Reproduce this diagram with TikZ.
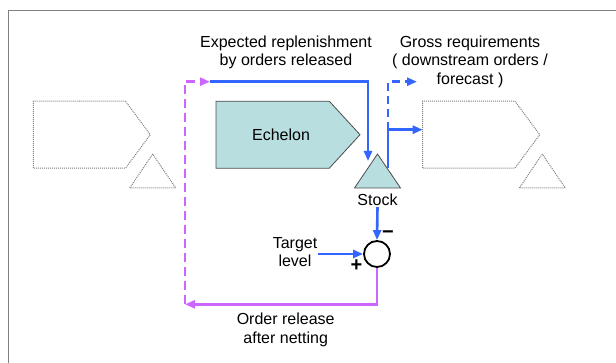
\documentclass[tikz,border=0pt]{standalone}
\usepackage{fontspec}
\setmainfont{Liberation Sans}
\usetikzlibrary{arrows.meta,shapes.symbols,shapes.geometric,positioning}
\definecolor{fluxbleu}{RGB}{51,102,255}
\definecolor{fluxmauve}{RGB}{204,102,255}
\definecolor{echelonfond}{RGB}{184,222,224}
\definecolor{cadregris}{RGB}{128,128,128}
\tikzset{
  fleche/.style={-{Triangle[length=10pt,width=8pt]}},
  bleuflux/.style={fluxbleu, line width=2.6pt, fleche},
  bleutirets/.style={bleuflux, dash pattern=on 8pt off 5pt},
  mauveflux/.style={fluxmauve, line width=2.6pt, fleche},
  mauvetirets/.style={mauveflux, dash pattern=on 9pt off 5pt},
  fantome/.style={draw=gray, dash pattern=on 1pt off 1pt, line width=1pt},
  etage/.style={signal, signal to=east, signal pointer angle=107, minimum width=117pt, minimum height=67pt, inner sep=0pt, outer sep=0pt, anchor=west},
  stocktri/.style={isosceles triangle, isosceles triangle stretches, shape border rotate=90, minimum width=46pt, minimum height=34pt, inner sep=0pt, outer sep=0pt, anchor=apex},
  signe/.style={font=\fontsize{20}{20}\bfseries, inner sep=0pt},
  texte/.style={font=\fontsize{16}{18.4}\selectfont, align=center, inner sep=1pt}
}

\begin{document}
\begin{tikzpicture}[x=1pt,y=-1pt]
  \useasboundingbox (0,0) rectangle (616,363);

  % cadre
  \draw[cadregris, line width=1pt] (8,363) |- (616,10.5);

  % étages amont et aval
  \node[etage, fantome] (amont) at (33.3,134.7) {};
  \node[stocktri, fantome] (amontstock) at (152.7,154) {};
  \node[etage, fantome] (aval) at (422.7,134.7) {};
  \node[stocktri, fantome] (avalstock) at (542.3,154) {};

  % échelon et son stock
  \node[etage, fill=echelonfond, draw=gray!60!black, line width=0.8pt,
        signal pointer angle=95, minimum width=144pt] (echelon) at (216,134.7) {};
  \node[texte] (echelontexte) at (281,135) {Echelon};
  \node[stocktri, fill=echelonfond, draw=gray!60!black, line width=0.8pt] (stock) at (377.5,154) {};
  \node[texte] (stocktexte) at (377.5,200) {Stock};

  % comparateur
  \node[circle, draw, line width=1.8pt, minimum size=26pt, inner sep=0pt] (somme) at (377,254) {};
  \node[signe] (moins) at (388,235) {−};
  \node[signe] (plus) at (356.5,266) {+};
  \node[texte] (cible) at (295,252) {Target\\level};

  % points de passage
  \coordinate (coinbas) at (185,304.3);
  \coordinate (coinhaut) at (185,81.7);
  \coordinate (relache) at (210,81.7);
  \coordinate (entreestock) at (368,161);
  \coordinate (sortiestock) at (388,168);
  \coordinate (embranchement) at (388,129.7);
  \coordinate (brut) at (417,81.7);

  % flux
  \draw[bleuflux] (stocktexte.south) -- (somme.north);
  \draw[bleuflux] (cible.east |- somme) -- (somme.west);
  \draw[mauveflux] (somme.south) |- (coinbas);
  \draw[mauvetirets] (coinbas) -- (coinhaut) -- (relache);
  \draw[bleuflux] (relache) -| (entreestock);
  \draw[bleuflux] (sortiestock) |- ([yshift=5pt]aval.west);
  \draw[bleutirets] (embranchement) |- (brut);

  % libellés
  \node[texte] (attendu) at (286,52.5) {Expected replenishment\\by orders released};
  \node[texte] (besoins) at (470,61.7) {Gross requirements\\( downstream orders /\\forecast )};
  \node[texte] (ordre) at (285.7,330) {Order release\\after netting};
\end{tikzpicture}
\end{document}
